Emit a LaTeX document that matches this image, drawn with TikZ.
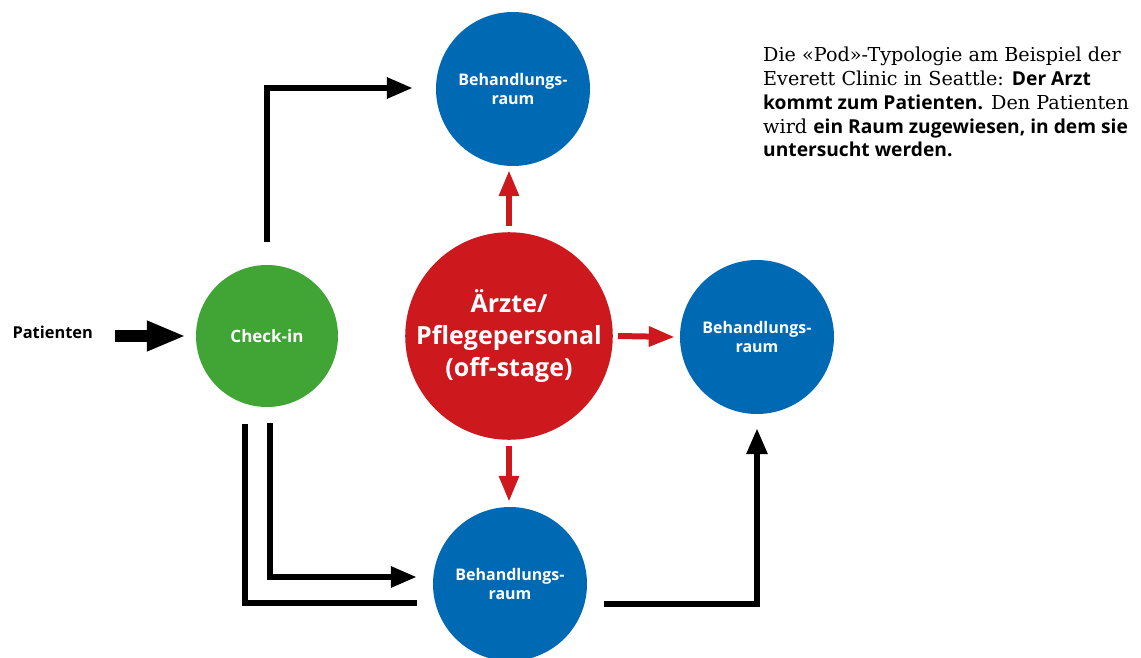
\documentclass[tikz,border=0pt]{standalone}
\usepackage{fontspec}
\setmainfont{DejaVu Serif}
\setsansfont{Open Sans}
\usetikzlibrary{arrows.meta,calc}
\definecolor{podblue}{HTML}{0069B4}
\definecolor{podgreen}{HTML}{40A535}
\definecolor{podred}{HTML}{CD181D}
\begin{document}
\begin{tikzpicture}[x=1pt,y=-1pt,
  disc/.style={circle,inner sep=0pt,text=white,align=center,font=\sffamily\bfseries},
  room/.style={disc,fill=podblue,minimum size=154pt,font=\sffamily\bfseries\fontsize{16}{19}\selectfont},
  checkbox/.style={disc,fill=podgreen,minimum size=142pt,font=\sffamily\bfseries\fontsize{17}{19}\selectfont},
  staffbox/.style={disc,fill=podred,minimum size=206pt,font=\sffamily\bfseries\fontsize{25}{32}\selectfont},
  blkarrow/.style={draw=black,line width=6pt,line join=miter,-{Triangle[length=26pt,width=20pt]}},
  blkline/.style={draw=black,line width=6pt,line join=miter},
  redarrow/.style={draw=podred,line width=6pt,-{Triangle[length=26pt,width=19pt]}},
  bigarrow/.style={draw=black,line width=12pt,-{Triangle[length=39pt,width=28pt]}}
]
\useasboundingbox (0,0) rectangle (1141,658);

\node[room] (r1) at (513,89) {Behandlungs-\\raum};
\node[checkbox] (c) at (267,336) {Check-in};
\node[staffbox] (s) at (509,336) {Ärzte/\\Pflegepersonal\\(off-stage)};
\node[room] (r2) at (757,337) {Behandlungs-\\raum};
\node[room] (r3) at (510,584) {Behandlungs-\\raum};

\node[anchor=west,font=\sffamily\bfseries\fontsize{16.4}{19}\selectfont] (p) at (9,332) {Patienten};

\node[anchor=north west,align=left,inner sep=0pt,font=\fontsize{19.2}{23.8}\selectfont] (txt) at (763,47)
 {Die «Pod»-Typologie am Beispiel der\\
  Everett Clinic in Seattle: \textsf{\bfseries Der Arzt}\\
  \textsf{\bfseries kommt zum Patienten.} Den Patienten\\
  wird \textsf{\bfseries ein Raum zugewiesen, in dem sie}\\
  \textsf{\bfseries untersucht werden.}};

% patients in
\draw[bigarrow] ([xshift=19pt]p.east |- c.west) -- ([xshift=-10pt]c.west);

% check-in to top room
\draw[blkarrow] ([yshift=23pt]c.north) |- ($(r1.west)+(-23,-1)$);

% check-in to bottom room (two lines)
\draw[blkline] ($(c.south)+(-22,17)$) |- ($(r3.west)+(-16,19)$);
\draw[blkarrow] ($(c.south)+(3,16)$) |- ($(r3.west)+(-16,-7)$);

% bottom room to right room
\draw[blkarrow] ($(r3.east)+(17,20)$) -| ($(r2.south)+(0,14)$);

% staff to rooms
\draw[redarrow] ([yshift=6pt]s.north) -- ([yshift=-4pt]s.north |- r1.south);
\draw[redarrow] ([xshift=5pt]s.east) -- ([xshift=-5pt]r2.west);
\draw[redarrow] ([yshift=-6pt]s.south) -- ([yshift=5pt]s.south |- r3.north);
\end{tikzpicture}
\end{document}
